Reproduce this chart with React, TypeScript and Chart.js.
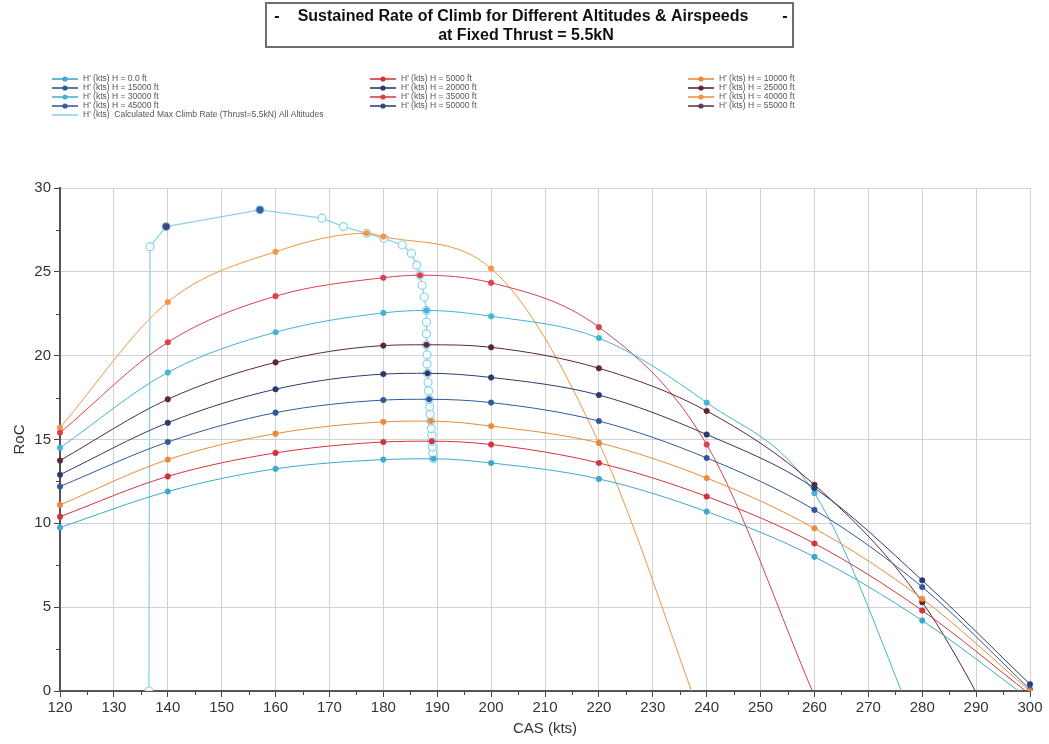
import React, { useEffect, useRef } from "react";
import { Chart, registerables } from "chart.js";

Chart.register(...registerables);

// ---------- DATA ----------
const casKts = [120, 140, 160, 180, 200, 220, 240, 260, 280, 300];

const roc0k = [9.75, 11.9, 13.25, 13.8, 13.6, 12.65, 10.7, 8.0, 4.2, -0.5];
const roc5k = [10.4, 12.8, 14.2, 14.85, 14.7, 13.6, 11.6, 8.8, 4.8, -0.2];
const roc10k = [11.1, 13.8, 15.35, 16.05, 15.8, 14.8, 12.7, 9.7, 5.5, 0.0];
const roc15k = [12.2, 14.85, 16.6, 17.35, 17.2, 16.1, 13.9, 10.8, 6.2, 0.1];
const roc20k = [12.9, 16.0, 18.0, 18.9, 18.7, 17.65, 15.3, 12.1, 6.6, 0.4];
const roc25k = [13.75, 17.4, 19.6, 20.6, 20.5, 19.25, 16.7, 12.3, 5.3, -6.0];
const roc30k = [14.5, 19.0, 21.4, 22.55, 22.35, 21.05, 17.2, 11.8, -3.0, null];
const roc35k = [15.4, 20.8, 23.55, 24.65, 24.35, 21.7, 14.7, -0.3, null, null];
const roc40k = [15.7, 23.2, 26.2, 27.1, 25.2, 14.8, -2.5, null, null, null];

// peak (max climb) point of each altitude curve
const peakCas = [189.3, 189.0, 188.8, 188.5, 188.2, 188.0, 188.0, 186.8, 176.9];
const peakRoc = [13.85, 14.9, 16.1, 17.4, 18.95, 20.65, 22.7, 24.8, 27.3];

// high-altitude single points
const cas45k = [157.1];
const roc45k = [28.7];
const cas50k = [139.7];
const roc50k = [27.7];
const cas55k: number[] = [];
const roc55k: number[] = [];

// calculated max climb rate line (all altitudes)
const maxClimbCas = [
  189.3, 189.2, 189.1, 189.0, 189.0, 188.9, 188.8, 188.7, 188.6, 188.5, 188.4,
  188.3, 188.2, 188.1, 188.1, 188.0, 188.0, 188.0, 188.0, 187.6, 187.2, 186.8,
  186.2, 185.2, 183.5, 180.1, 176.9, 172.6, 168.6, 157.1, 139.7, 136.7, 136.5,
];
const maxClimbRoc = [
  13.85, 14.2, 14.55, 14.9, 15.25, 15.65, 16.1, 16.5, 16.95, 17.4, 17.9, 18.4,
  18.95, 19.5, 20.05, 20.65, 21.3, 22.0, 22.7, 23.5, 24.2, 24.8, 25.4, 26.1,
  26.6, 27.0, 27.3, 27.7, 28.2, 28.7, 27.7, 26.5, 0,
];

const seriesLabels = [
  "H' (kts) H = 0.0 ft",
  "H' (kts) H = 5000 ft",
  "H' (kts) H = 10000 ft",
  "H' (kts) H = 15000 ft",
  "H' (kts) H = 20000 ft",
  "H' (kts) H = 25000 ft",
  "H' (kts) H = 30000 ft",
  "H' (kts) H = 35000 ft",
  "H' (kts) H = 40000 ft",
  "H' (kts) H = 45000 ft",
  "H' (kts) H = 50000 ft",
  "H' (kts) H = 55000 ft",
];
const maxClimbLabel =
  "H' (kts)  Calculated Max Climb Rate (Thrust=5.5kN) All Altitudes";

const seriesColors = [
  "#3fa9cc",
  "#d2343e",
  "#ec8a3c",
  "#2f5a9a",
  "#2b3a6a",
  "#5a2838",
  "#45b3d6",
  "#d9414c",
  "#f29444",
  "#3a5ca6",
  "#3d447e",
  "#6b3858",
];
const maxClimbColor = "#8cd2ec";

const titleText = "Sustained Rate of Climb for Different Altitudes & Airspeeds";
const titleLine2 = "at Fixed Thrust = 5.5kN";
const xTitle = "CAS (kts)";
const yTitle = "RoC";

// ---------- BUILD ----------
const curveRoc = [roc0k, roc5k, roc10k, roc15k, roc20k, roc25k, roc30k, roc35k, roc40k];

function curvePoints(i: number) {
  const pts: { x: number; y: number }[] = [];
  casKts.forEach((x, j) => {
    const y = curveRoc[i][j];
    if (y !== null && y !== undefined) pts.push({ x, y });
  });
  pts.push({ x: peakCas[i], y: peakRoc[i] });
  pts.sort((a, b) => a.x - b.x);
  return pts;
}

function pairPoints(xs: number[], ys: number[]) {
  return xs.map((x, j) => ({ x, y: ys[j] }));
}

const FONT = "'Liberation Sans', Arial, sans-serif";

const titlePlugin = {
  id: "boxTitle",
  afterDraw(chart: any) {
    const ctx = chart.ctx;
    ctx.save();
    ctx.strokeStyle = "#6e6e6e";
    ctx.lineWidth = 2;
    ctx.strokeRect(266, 3, 527, 44);
    ctx.fillStyle = "#111";
    ctx.font = `bold 16px ${FONT}`;
    ctx.textBaseline = "middle";
    ctx.textAlign = "center";
    ctx.fillText("-", 277, 17);
    ctx.fillText("-", 785, 17);
    ctx.fillText(titleText, 523, 17);
    ctx.fillText(titleLine2, 526, 36);
    ctx.restore();
  },
};

const gridLegendPlugin = {
  id: "gridLegend",
  afterDraw(chart: any) {
    const ctx = chart.ctx;
    const colX = [52, 370, 688];
    ctx.save();
    ctx.font = `8.5px ${FONT}`;
    ctx.textBaseline = "middle";
    ctx.textAlign = "left";
    chart.data.datasets.forEach((ds: any, i: number) => {
      let col: number, row: number;
      if (i < 12) {
        col = i % 3;
        row = Math.floor(i / 3);
      } else {
        col = 0;
        row = 4;
      }
      const x = colX[col];
      const y = 79 + row * 9;
      ctx.strokeStyle = ds.borderColor;
      ctx.lineWidth = 1.6;
      ctx.beginPath();
      ctx.moveTo(x, y);
      ctx.lineTo(x + 26, y);
      ctx.stroke();
      if (i < 12) {
        ctx.fillStyle = ds.pointBackgroundColor;
        ctx.beginPath();
        ctx.arc(x + 13, y, 2.6, 0, Math.PI * 2);
        ctx.fill();
      }
      ctx.fillStyle = "#555";
      ctx.fillText(ds.label, x + 31, y);
    });
    ctx.restore();
  },
};

const minorTickPlugin = {
  id: "minorTicks",
  afterDraw(chart: any) {
    const ctx = chart.ctx;
    const xs = chart.scales.x;
    const ys = chart.scales.y;
    const area = chart.chartArea;
    ctx.save();
    ctx.strokeStyle = "#444";
    ctx.lineWidth = 1;
    for (let v = 125; v < 300; v += 10) {
      const px = Math.round(xs.getPixelForValue(v)) + 0.5;
      ctx.beginPath();
      ctx.moveTo(px, area.bottom);
      ctx.lineTo(px, area.bottom + 4);
      ctx.stroke();
    }
    for (let v = 2.5; v < 30; v += 5) {
      const py = Math.round(ys.getPixelForValue(v)) + 0.5;
      ctx.beginPath();
      ctx.moveTo(area.left, py);
      ctx.lineTo(area.left - 4, py);
      ctx.stroke();
    }
    ctx.restore();
  },
};

export default function App() {
  const canvasRef = useRef<HTMLCanvasElement | null>(null);

  useEffect(() => {
    document.body.style.margin = "0";
    const canvas = canvasRef.current;
    if (!canvas) return;

    const altitudeDatasets = seriesLabels.map((label, i) => {
      let data: { x: number; y: number }[];
      if (i < 9) data = curvePoints(i);
      else if (i === 9) data = pairPoints(cas45k, roc45k);
      else if (i === 10) data = pairPoints(cas50k, roc50k);
      else data = pairPoints(cas55k, roc55k);
      return {
        label,
        data,
        borderColor: seriesColors[i],
        backgroundColor: seriesColors[i],
        pointBackgroundColor: seriesColors[i],
        pointBorderColor: seriesColors[i],
        pointRadius: i >= 9 ? 3.4 : 2.8,
        pointBorderWidth: 0.5,
        borderWidth: 1,
        cubicInterpolationMode: "monotone" as const,
        fill: false,
        order: 1,
        clip: { left: 6, top: 0, right: 6, bottom: 0 },
      };
    });

    const maxDataset = {
      label: maxClimbLabel,
      data: pairPoints(maxClimbCas, maxClimbRoc),
      borderColor: maxClimbColor,
      backgroundColor: maxClimbColor,
      pointBackgroundColor: "rgba(255,255,255,0.85)",
      pointBorderColor: maxClimbColor,
      pointRadius: 4,
      pointBorderWidth: 1.2,
      borderWidth: 1.3,
      tension: 0,
      fill: false,
      order: 2,
      clip: { left: 6, top: 0, right: 6, bottom: 0 },
    };

    Chart.defaults.font.family = FONT;

    const chart = new Chart(canvas, {
      type: "line",
      data: { datasets: [...altitudeDatasets, maxDataset] as any },
      options: {
        responsive: false,
        animation: false,
        layout: { padding: { left: 0, right: 19, top: 188, bottom: 0 } },
        plugins: {
          legend: { display: false },
          title: { display: false },
          tooltip: { enabled: false },
        },
        scales: {
          x: {
            type: "linear",
            min: 120,
            max: 300,
            ticks: {
              stepSize: 10,
              color: "#333",
              font: { size: 15 },
              padding: 2,
              maxRotation: 0,
            },
            grid: {
              color: "#d2d2d2",
              lineWidth: 1,
              tickLength: 6,
              tickColor: "#444",
            },
            border: { color: "#555", width: 2 },
            title: {
              display: true,
              text: xTitle,
              color: "#333",
              font: { size: 15 },
              padding: { top: 0, bottom: 6 },
            },
            afterFit: (s: any) => {
              s.height = 53;
            },
          },
          y: {
            min: 0,
            max: 30,
            ticks: {
              stepSize: 5,
              color: "#333",
              font: { size: 15 },
              padding: 3,
            },
            grid: {
              color: "#d2d2d2",
              lineWidth: 1,
              tickLength: 6,
              tickColor: "#444",
            },
            border: { color: "#555", width: 2 },
            title: {
              display: true,
              text: yTitle,
              color: "#333",
              font: { size: 15 },
              padding: { top: 11, bottom: 0 },
            },
            afterFit: (s: any) => {
              s.width = 60;
            },
          },
        },
      },
      plugins: [titlePlugin, gridLegendPlugin, minorTickPlugin],
    });

    return () => chart.destroy();
  }, []);

  return (
    <div style={{ width: 1049, height: 744, position: "relative" }}>
      <canvas ref={canvasRef} width={1049} height={744} />
    </div>
  );
}
